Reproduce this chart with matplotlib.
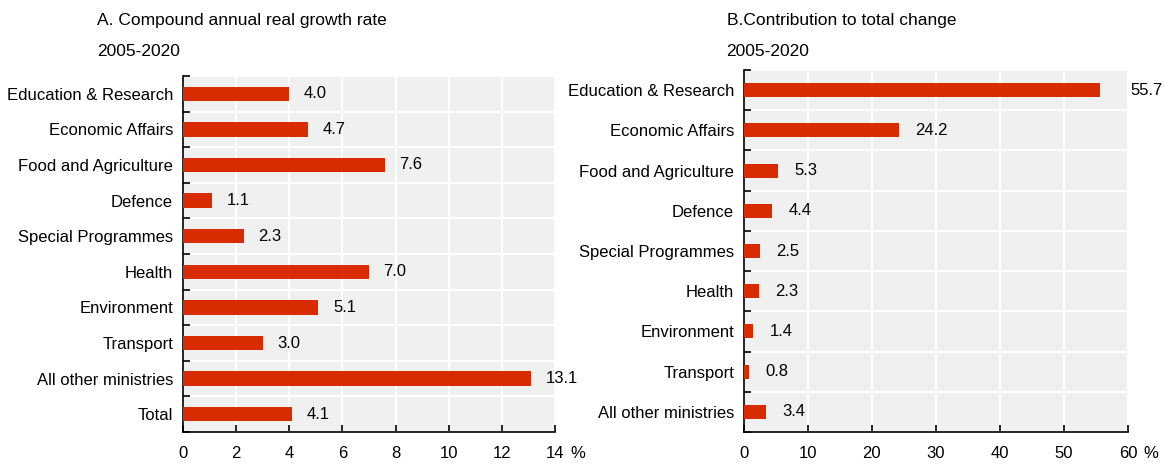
import numpy as np
import matplotlib.pyplot as plt

plt.rcParams['font.family'] = ['Liberation Sans', 'DejaVu Sans']

cats_a = ["Education & Research", "Economic Affairs", "Food and Agriculture", "Defence",
          "Special Programmes", "Health", "Environment", "Transport",
          "All other ministries", "Total"]
vals_a = [4.0, 4.7, 7.6, 1.1, 2.3, 7.0, 5.1, 3.0, 13.1, 4.1]

cats_b = ["Education & Research", "Economic Affairs", "Food and Agriculture", "Defence",
          "Special Programmes", "Health", "Environment", "Transport",
          "All other ministries"]
vals_b = [55.7, 24.2, 5.3, 4.4, 2.5, 2.3, 1.4, 0.8, 3.4]

red = '#d82c00'
fig = plt.figure(figsize=(11.64, 4.67), dpi=100)
# left panel 76..432 px, right panel 70..432 px
ax1 = fig.add_axes([0.157, 35 / 467, 0.320, 356 / 467])
ax2 = fig.add_axes([0.639, 35 / 467, 0.330, 362 / 467])


def panel(ax, cats, vals, xmax, step, off, title, hbar, tx, outside=None):
    n = len(cats)
    y = np.arange(n)
    ax.set_facecolor('#f0f0f0')
    ax.barh(y, vals, height=hbar, color=red, zorder=3)
    for yi, v in zip(y, vals):
        # long bars get their label just past the axis end
        if outside is not None and v > outside * xmax:
            xl = xmax * 1.006
        else:
            xl = v + off
        ax.text(xl, yi, f"{v:.1f}", va='center', ha='left', fontsize=12, zorder=4,
                clip_on=False)
    ax.set_xlim(0, xmax)
    ax.set_ylim(n - 0.5, -0.5)
    ax.set_yticks(y)
    ax.set_yticklabels(cats, fontsize=12)
    ax.set_yticks(np.arange(-0.5, n, 1), minor=True)
    ax.tick_params(axis='y', which='major', length=0, pad=7)
    ax.tick_params(axis='y', which='minor', direction='in', length=5, width=1.2)
    ticks = np.arange(0, xmax + step / 2, step)
    ax.set_xticks(ticks)
    ax.set_xticklabels([f"{t:g}" for t in ticks], fontsize=12)
    ax.tick_params(axis='x', direction='in', length=5, width=1.2, pad=10)
    ax.grid(True, axis='x', color='white', linewidth=1.5, zorder=1)
    ax.grid(True, axis='y', which='minor', color='white', linewidth=1.5, zorder=1)
    for s in ['top', 'right']:
        ax.spines[s].set_visible(False)
    for s in ['left', 'bottom']:
        ax.spines[s].set_linewidth(1.2)
    ax.set_axisbelow(True)
    h = ax.get_position().height * 467
    ax.text(1.04, -22 / h, '%', transform=ax.transAxes, fontsize=12, ha='left', va='center')
    top = 467 - (ax.get_position().y1 * 467)
    ax.text(tx, 1 + (top - 20) / h, title, transform=ax.transAxes, fontsize=12.5,
            ha='left', va='center')
    ax.text(tx, 1 + (top - 52) / h, "2005-2020", transform=ax.transAxes, fontsize=12.5,
            ha='left', va='center')


panel(ax1, cats_a, vals_a, 14, 2, 0.55, "A. Compound annual real growth rate", 0.4, -0.23)
panel(ax2, cats_b, vals_b, 60, 10, 2.6, "B.Contribution to total change", 0.35, -0.045,
      outside=0.9)

fig.savefig('out.png', dpi=100)
